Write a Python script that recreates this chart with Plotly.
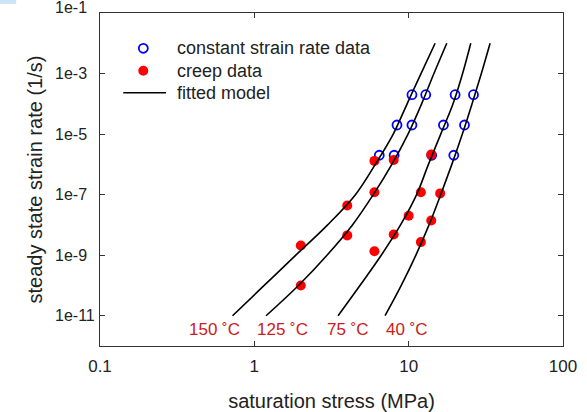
import plotly.graph_objects as go
import numpy as np

# ---- data ----
# constant strain rate data (blue open circles)
csr_stress = [10.5, 12.9, 20.0, 26.3,
              8.4, 10.5, 16.8, 23.0,
              6.45, 8.05, 14.1, 19.6]
csr_rate = [2e-4, 2e-4, 2e-4, 2e-4,
            2e-5, 2e-5, 2e-5, 2e-5,
            2e-6, 2e-6, 2e-6, 2e-6]

# creep data (red filled circles)
creep_stress = [6, 8, 14, 6, 12, 16, 4, 10, 14, 2, 4, 8, 6, 12, 2]
creep_rate = [1.3e-6, 1.4e-6, 2.1e-6, 1.2e-7, 1.2e-7, 1.1e-7, 4.4e-8, 2.0e-8,
              1.4e-8, 2.1e-9, 4.5e-9, 4.8e-9, 1.35e-9, 2.7e-9, 1.0e-10]

# fitted model curves, read at each decade of strain rate
curve_rate = [1e-11, 1e-10, 1e-9, 1e-8, 1e-7, 1e-6, 1e-5, 1e-4, 1e-3, 1e-2]
curve_150 = [0.7225, 1.158, 1.857, 2.985, 4.519, 6.077, 7.943, 9.772, 12.02, 14.84]
curve_125 = [1.191, 1.931, 2.957, 4.323, 5.898, 7.779, 9.904, 12.13, 14.58, 17.66]
curve_75 = [3.487, 4.834, 6.643, 8.858, 11.26, 13.43, 16.14, 19.39, 22.36, 25.26]
curve_40 = [7.031, 8.954, 11.14, 13.55, 16.14, 19.05, 22.28, 25.76, 29.58, 33.7]

# temperature labels
label_text = ["150 ˚C", "125 ˚C", "75 ˚C", "40 ˚C"]
label_stress = [0.554, 1.52, 4.02, 9.72]
label_rate = 3.6e-12

# legend entries
legend_text = ["constant strain rate data", "creep data", "fitted model"]

# tick labels
xtick_vals = [0.1, 1, 10, 100]
xtick_text = ["0.1", "1", "10", "100"]
ytick_vals = [1e-1, 1e-3, 1e-5, 1e-7, 1e-9, 1e-11]
ytick_text = ["1e-1", "1e-3", "1e-5", "1e-7", "1e-9", "1e-11"]

FONT = "Liberation Sans, Arial, sans-serif"
TXT = "#222222"
BLUE = "#0000ff"
RED = "#ff0000"

fig = go.Figure()

fig.add_trace(go.Scatter(
    x=csr_stress, y=csr_rate, mode="markers", name=legend_text[0], showlegend=False,
    marker=dict(symbol="circle-open", color=BLUE, size=9, line=dict(width=1.8, color=BLUE)),
))
fig.add_trace(go.Scatter(
    x=creep_stress, y=creep_rate, mode="markers", name=legend_text[1], showlegend=False,
    marker=dict(symbol="circle", color=RED, size=10, line=dict(width=0)),
))
for cx in [curve_150, curve_125, curve_75, curve_40]:
    fig.add_trace(go.Scatter(
        x=cx, y=curve_rate, mode="lines", name=legend_text[2], showlegend=False,
        line=dict(color="black", width=1.6, shape="spline", smoothing=1.0),
    ))

annotations = []
for t, s in zip(label_text, label_stress):
    annotations.append(dict(x=np.log10(s), y=np.log10(label_rate), xref="x", yref="y",
                            text=t, showarrow=False, xanchor="center", yanchor="middle",
                            font=dict(family=FONT, size=17, color="#cc2020")))
for v, t in zip(ytick_vals, ytick_text):
    annotations.append(dict(x=-0.1015, y=np.log10(v), xref="paper", yref="y",
                            text=t, showarrow=False, xanchor="left", yanchor="middle",
                            yshift=(6 if v == 1e-1 else 0),
                            font=dict(family=FONT, size=16, color=TXT)))
# y axis title
annotations.append(dict(x=-0.1404, y=0.5, xref="paper", yref="paper",
                        text="steady state strain rate (1/s)", textangle=-90,
                        showarrow=False, xanchor="center", yanchor="middle",
                        font=dict(family=FONT, size=20, color=TXT)))
# legend (drawn manually to match spacing)
leg_y = [0.894, 0.8267, 0.7607]
for t, yy in zip(legend_text, leg_y):
    annotations.append(dict(x=0.162, y=yy, xref="paper", yref="paper", text=t,
                            showarrow=False, xanchor="left", yanchor="middle",
                            font=dict(family=FONT, size=18, color=TXT)))
shapes = [
    dict(type="rect", xref="paper", yref="paper", x0=-0.216, x1=-0.181,
         y0=1.027, y1=1.039, fillcolor="#cce4f7", line=dict(width=0)),
    dict(type="circle", xref="paper", yref="paper", x0=0.0838, x1=0.1033,
         y0=0.8805, y1=0.9075, line=dict(color=BLUE, width=1.8)),
    dict(type="circle", xref="paper", yref="paper", x0=0.0827, x1=0.1043,
         y0=0.8117, y1=0.8417, fillcolor=RED, line=dict(width=0)),
    dict(type="line", xref="paper", yref="paper", x0=0.0503, x1=0.1425,
         y0=0.7607, y1=0.7607, line=dict(color="black", width=1.6)),
]

fig.update_layout(
    width=587, height=412,
    margin=dict(l=100, r=24, t=13, b=66),
    paper_bgcolor="white", plot_bgcolor="white",
    font=dict(family=FONT, size=16, color=TXT),
    showlegend=False,
    annotations=annotations,
    shapes=shapes,
)
fig.update_xaxes(
    type="log", range=[-1, 2], tickvals=xtick_vals, ticktext=xtick_text,
    ticks="inside", ticklen=5, tickcolor="#333", mirror="ticks", showline=True,
    linecolor="#333", linewidth=1, showgrid=False, zeroline=False, automargin=False,
    tickfont=dict(family=FONT, size=17, color=TXT), ticklabelstandoff=5,
    title=dict(text="saturation stress (MPa)", font=dict(family=FONT, size=20, color=TXT), standoff=18),
)
fig.update_yaxes(
    type="log", range=[-12, -1], tickvals=ytick_vals, showticklabels=False,
    ticks="inside", ticklen=5, tickcolor="#333", mirror="ticks", showline=True,
    linecolor="#333", linewidth=1, showgrid=False, zeroline=False, automargin=False,
)

fig.write_html("out.html", config={"displayModeBar": False},
               post_script="document.body.style.margin='0';document.body.style.padding='0';")
